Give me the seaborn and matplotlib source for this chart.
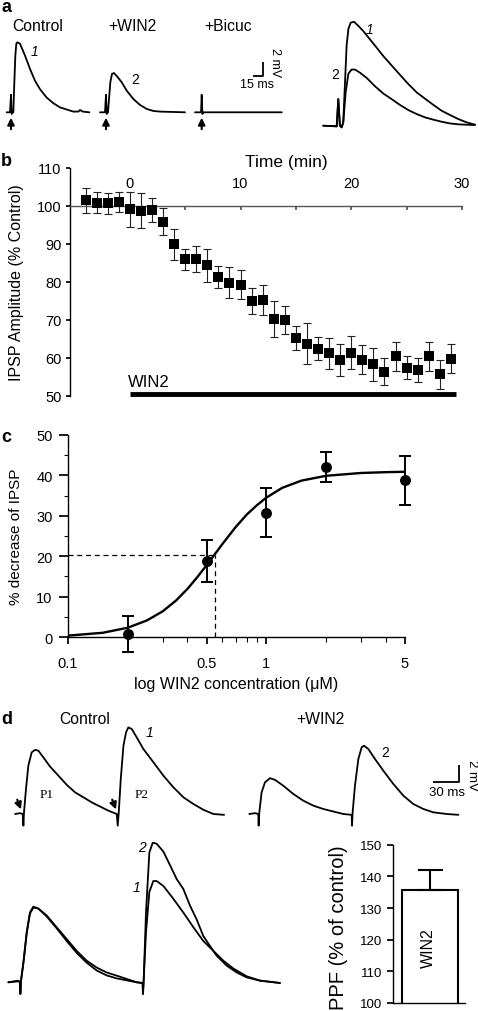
import matplotlib
matplotlib.use("Agg")
import matplotlib.pyplot as plt
from matplotlib.patches import FancyArrowPatch
from matplotlib.ticker import FixedLocator, NullFormatter
import numpy as np
import pandas as pd
import seaborn as sns

W, H = 478, 1012

# ---- panel a: example IPSPs (ms, mV) ----
a_ctrl_t = [-6.5, -1.5, 0, 1, 2.5, 3.5, 5, 6.5, 8, 9.5, 13.5, 21, 28.5, 36, 43.5, 53.5,
            63.5, 73.5, 83.5, 93.5, 101, 103.5, 107.5, 117.5]
a_ctrl_v = [0, 0, 2.5, -0.24, 0, 0, 4.3, 8.1, 9.8, 10, 9.8, 8.1, 6.2, 4.5, 3.3, 2.1,
            1.3, 0.7, 0.4, 0.1, 0.1, 0.33, 0.1, 0]
a_win_t = [-9, -1.5, 0, 1, 3, 4.5, 6.5, 9, 12, 16, 23.5, 31, 41, 51, 61, 71, 81, 118.5]
a_win_v = [0, 0, 2.5, -0.24, 0, 1.9, 4.3, 5.5, 5.6, 5.2, 4.3, 3.1, 1.9, 1.05, 0.48, 0.19, 0.1, 0]
a_bic_t = [-10, -1, 0, 1, 2.5, 120]
a_bic_v = [0, 0, 2.5, -0.24, 0, 0]

# superimposed traces 1 (control) and 2 (WIN2)
a_ov1_t = [-9.4, -1, 0, 1, 2.1, 3.1, 4.2, 5.2, 6.3, 7.7, 9.8, 12.5, 15.6, 19.8, 24, 28.1,
           33.3, 38.5, 43.8, 49, 54.2, 59.4, 64.6, 69.8, 75, 80.2, 85.4]
a_ov1_v = [0, -0.06, 2.56, 0, -0.16, 0.32, 4.2, 7.7, 9.3, 9.9, 10, 9.6, 9.1, 8.3, 7.5, 6.7,
           5.8, 4.9, 4.0, 3.2, 2.6, 2.0, 1.44, 1.03, 0.64, 0.32, 0.1]
a_ov2_t = [-9.4, -1, 0, 1, 2.1, 3.1, 4.6, 6.3, 8.3, 10.4, 13.5, 17.7, 22.9, 28.1, 33.3,
           38.5, 43.8, 49, 54.2, 59.4, 64.6, 69.8, 75, 85.4]
a_ov2_v = [0, -0.06, 2.56, 0, -0.16, 0.32, 3.2, 5.0, 5.4, 5.4, 5.1, 4.6, 3.8, 3.1, 2.56,
           2.0, 1.5, 1.12, 0.8, 0.58, 0.38, 0.22, 0.13, 0.06]

# ---- panel b: time course ----
b_time = list(range(-4, 30))
b_amp = [101.5, 100.9, 100.7, 101.1, 99.1, 98.7, 98.9, 95.9, 89.9, 86.0, 86.1, 84.4,
         81.3, 79.8, 79.3, 75.0, 75.3, 70.2, 70.0, 65.3, 63.8, 62.5, 61.2, 59.4, 61.4,
         59.6, 58.3, 56.4, 60.5, 57.5, 56.8, 60.4, 55.7, 59.8]
b_sem = [3.3, 2.8, 2.8, 2.6, 4.6, 4.6, 3.2, 3.6, 4.1, 2.8, 3.5, 4.4, 2.9, 4.1, 3.8, 3.5,
         3.9, 4.7, 3.7, 3.1, 5.3, 3.0, 4.1, 4.2, 4.4, 3.8, 4.4, 3.5, 3.8, 3.1, 3.1, 3.7,
         3.8, 3.8]
win2_start, win2_end = 0, 29.5

# ---- panel c: concentration-response ----
c_conc = [0.2, 0.5, 1, 2, 5]
c_pct = [0.8, 18.8, 30.8, 42.0, 38.8]
c_sem = [4.4, 5.3, 6.0, 3.7, 6.1]
c_fit_conc = [0.1, 0.15, 0.2, 0.25, 0.3, 0.35, 0.4, 0.45, 0.5, 0.55, 0.6, 0.7, 0.8, 0.9,
              1.0, 1.2, 1.5, 2, 3, 4, 5]
c_fit_pct = [0.34, 1.05, 2.3, 4.1, 6.35, 9.0, 11.9, 14.9, 17.8, 20.5, 23.0, 27.2, 30.4,
             32.7, 34.5, 36.9, 38.7, 39.9, 40.6, 40.8, 40.9]
c_ec50, c_half = 0.55, 20.4

# ---- panel d: paired-pulse traces (ms, mV) ----
d_ctrl_t = [-8.8, -3.1, 0, 0.8, 1.5, 3.8, 6.5, 10.4, 14.2, 18.1, 23.8, 31.5, 41.2, 50.8,
            60.4, 70, 79.6, 89.2, 98.8, 108.5, 109.6, 110.8, 113.1, 116.2, 119.2, 121.9,
            125.8, 131.5, 139.2, 150.8, 162.3, 173.8, 185.4, 196.9, 208.5, 220, 232.3]
d_ctrl_v = [0, 0.1, 0, -1.4, 0.2, 3, 5.8, 7.4, 7.7, 7.6, 6.8, 5.7, 4.6, 3.5, 2.6, 2.0,
            1.4, 0.9, 0.4, 0, -1.4, 0.2, 4.2, 8.2, 9.8, 10.4, 10.2, 9.2, 7.8, 6.2, 4.6,
            3.2, 2.0, 1.2, 0.5, 0, -0.1]
d_win_t = [-10.4, -3.8, 0, 0.4, 1.2, 3.8, 7.7, 13.5, 19.2, 28.8, 40.4, 51.9, 63.5, 75,
           86.5, 98.1, 107.7, 108.1, 108.8, 111.5, 115.4, 119.2, 121.9, 126.9, 134.6,
           144.2, 155.8, 167.3, 178.8, 190.4, 201.9, 217.3, 230.8]
d_win_v = [0, 0.1, 0, -1.4, 0.2, 2.6, 3.8, 4.3, 4.1, 3.4, 2.4, 1.6, 1.0, 0.6, 0.3, 0,
           -0.1, -1.4, 0.2, 3.4, 6.6, 8.0, 8.2, 7.8, 6.6, 5.2, 3.6, 2.2, 1.2, 0.6, 0.2,
           0, -0.1]
d_ov1_t = [-10.4, -1.5, 0, 0.3, 0.9, 3, 6, 8.9, 11.9, 16.4, 23.8, 32.7, 41.7, 50.6, 59.5,
           68.5, 77.4, 86.3, 95.2, 104.2, 109.5, 109.8, 110.4, 112.5, 115.5, 119, 122,
           128, 136.9, 145.8, 154.8, 163.7, 172.6, 181.5, 190.5, 202.4, 214.3, 232.1]
d_ov1_v = [0, 0.17, 0, -1.19, 0.17, 2.0, 5.1, 7.1, 7.7, 7.5, 6.8, 5.6, 4.4, 3.2, 2.2,
           1.5, 1.0, 0.68, 0.34, 0, -0.07, -1.19, 0.17, 5.1, 9.2, 10.3, 10.3, 9.8, 8.5,
           7.1, 5.6, 4.2, 3.2, 2.2, 1.4, 0.61, 0.17, -0.07]
d_ov2_t = [-10.4, -1.5, 0, 0.3, 0.9, 3, 6, 8.9, 11.9, 16.4, 23.8, 32.7, 41.7, 50.6, 59.5,
           68.5, 77.4, 86.3, 95.2, 104.2, 109.5, 109.8, 110.4, 112.5, 115.5, 118.5, 122,
           128, 134, 139.9, 145.8, 151.8, 157.7, 163.7, 169.6, 175.6, 184.5, 193.5,
           202.4, 214.3, 232.1]
d_ov2_v = [0, 0.1, 0, -1.19, 0.17, 1.9, 5.0, 7.0, 7.6, 7.5, 6.7, 5.5, 4.2, 3.0, 2.0,
           1.2, 0.7, 0.4, 0.2, 0, -0.07, -1.19, 0.17, 7.1, 13.2, 14.2, 14.1, 13.3, 11.9,
           10.5, 9.5, 7.8, 6.4, 4.7, 3.7, 2.7, 1.7, 1.0, 0.5, 0.17, -0.07]

ppf_labels = ["WIN2"]
ppf_mean = [135.7]
ppf_sem = [6.4]


sns.set_theme(style="ticks")
plt.rcParams["font.family"] = ["Liberation Sans", "DejaVu Sans"]
plt.rcParams["text.color"] = "black"
plt.rcParams["axes.labelcolor"] = "black"
plt.rcParams["xtick.color"] = "black"
plt.rcParams["ytick.color"] = "black"
plt.rcParams["axes.edgecolor"] = "black"
plt.rcParams["axes.linewidth"] = 1.0

TICK_FS = 10.5


def px_axes(fig, x0, y0, x1, y1):
    return fig.add_axes([x0 / W, 1 - y1 / H, (x1 - x0) / W, (y1 - y0) / H])


def trace_axes(fig, box, stim_px, base_px, px_ms, px_mv):
    x0, y0, x1, y1 = box
    ax = px_axes(fig, x0, y0, x1, y1)
    ax.set_xlim((x0 - stim_px) / px_ms, (x1 - stim_px) / px_ms)
    ax.set_ylim((base_px - y1) / px_mv, (base_px - y0) / px_mv)
    ax.axis("off")
    return ax


def draw_trace(ax, t, v):
    sns.lineplot(x=t, y=v, ax=ax, color="black", lw=1.3, sort=False, estimator=None)


def fig_text(fig, x, y, s, **kw):
    kw.setdefault("ha", "center")
    kw.setdefault("va", "center")
    fig.text(x / W, 1 - y / H, s, **kw)


def fig_arrow(fig, x0, y0, x1, y1):
    fig.add_artist(FancyArrowPatch((x0 / W, 1 - y0 / H), (x1 / W, 1 - y1 / H),
                                   transform=fig.transFigure, arrowstyle="-|>",
                                   mutation_scale=10, lw=1.5, color="black"))


def scale_bar(ax, x, y, dx, dy, xlab, ylab, xlab_pos, ylab_pos, fs):
    ax.plot([x, x + dx, x + dx], [y, y, y + dy], color="black", lw=1.3,
            solid_capstyle="butt", clip_on=False)
    ax.text(*xlab_pos, xlab, fontsize=fs, ha="center", va="center")
    ax.text(*ylab_pos, ylab, fontsize=fs, ha="center", va="center", rotation=-90)


fig = plt.figure(figsize=(W / 100, H / 100), dpi=100)

# ---------------- a ----------------
a_px_ms, a_px_mv = 0.667, 7.0
ax = trace_axes(fig, (0, 35, 95, 140), 11, 113.3, a_px_ms, a_px_mv)
draw_trace(ax, a_ctrl_t, a_ctrl_v)
ax = trace_axes(fig, (95, 35, 190, 140), 106, 113.3, a_px_ms, a_px_mv)
draw_trace(ax, a_win_t, a_win_v)
ax = trace_axes(fig, (190, 35, 300, 140), 201.7, 113.3, a_px_ms, a_px_mv)
draw_trace(ax, a_bic_t, a_bic_v)
scale_bar(ax, 76.5, 5.14, 15, 2, "15 ms", "2 mV", (83, 4.0), (109.5, 7.2), 9)
ax = trace_axes(fig, (310, 10, 478, 140), 338.3, 126.7, 1.6, 10.4)
draw_trace(ax, a_ov1_t, a_ov1_v)
draw_trace(ax, a_ov2_t, a_ov2_v)

for sx in (11, 106, 201.7):
    fig_arrow(fig, sx, 133, sx, 116)

fig_text(fig, 38, 26.5, "Control", fontsize=11.3)
fig_text(fig, 132.5, 26.5, "+WIN2", fontsize=11.3)
fig_text(fig, 228, 26.5, "+Bicuc", fontsize=11.3)
fig_text(fig, 35, 52, "1", fontsize=10, style="italic")
fig_text(fig, 135, 80.5, "2", fontsize=10)
fig_text(fig, 370, 30, "1", fontsize=10, style="italic")
fig_text(fig, 335, 75, "2", fontsize=10)

# ---------------- b ----------------
ax = px_axes(fig, 70, 169, 462, 397)
ax.errorbar(b_time, b_amp, yerr=b_sem, fmt="none", ecolor="#222222",
            elinewidth=0.8, capsize=3.2, capthick=0.8, zorder=2)
sns.scatterplot(x=b_time, y=b_amp, marker="s", s=52, color="black", edgecolor="black",
                linewidth=0, ax=ax, zorder=3)
ax.set_xlim(-5.4, 30)
ax.set_ylim(50, 110)
ax.spines["right"].set_visible(False)
ax.spines["bottom"].set_visible(False)
ax.spines["top"].set_position(("data", 100))
ax.spines["top"].set_color("#555555")
ax.xaxis.tick_top()
ax.set_xticks([0, 5, 10, 15, 20, 25, 30])
ax.set_xticklabels(["0", "", "10", "", "20", "", "30"])
ax.tick_params(axis="x", direction="in", length=3, pad=11.5, labelsize=TICK_FS,
               color="#555555")
ax.set_yticks(range(50, 111, 10))
ax.tick_params(axis="y", direction="out", length=3, pad=3, labelsize=TICK_FS)
ax.set_ylabel("IPSP Amplitude (% Control)", fontsize=11.5)
ax.yaxis.set_label_coords(-0.117, 0.5)
ax.plot([win2_start, win2_end], [50.5, 50.5], color="black", lw=3.5,
        solid_capstyle="butt", clip_on=False)
ax.text(win2_start - 0.2, 53.8, "WIN2", fontsize=12, ha="left", va="center")
fig_text(fig, 286, 162, "Time (min)", fontsize=12.5)

# ---------------- c ----------------
ax = px_axes(fig, 68, 436, 405, 638)
ax.set_xscale("log")
sns.lineplot(x=c_fit_conc, y=c_fit_pct, ax=ax, color="black", lw=1.7, sort=False,
             estimator=None)
ax.plot([0.1, c_ec50], [c_half, c_half], color="black", lw=0.9, ls="--", dashes=(4, 3))
ax.plot([c_ec50, c_ec50], [0, c_half], color="black", lw=0.9, ls="--", dashes=(4, 3))
eb = ax.errorbar(c_conc, c_pct, yerr=c_sem, fmt="none", ecolor="black",
                 elinewidth=1.4, capsize=4.5, capthick=1.4, zorder=2)
for part in eb.get_children():
    part.set_clip_on(False)
sns.scatterplot(x=c_conc, y=c_pct, s=62, color="black", edgecolor="black", linewidth=0,
                ax=ax, zorder=3, clip_on=False)
ax.set_xlim(0.1, 5)
ax.set_ylim(0, 50)
ax.spines["right"].set_visible(False)
ax.spines["top"].set_visible(False)
ax.xaxis.set_major_locator(FixedLocator([0.1, 0.5, 1, 5]))
ax.set_xticklabels(["0.1", "0.5", "1", "5"])
ax.xaxis.set_minor_locator(FixedLocator([0.2, 0.3, 0.4, 0.6, 0.7, 0.8, 0.9, 2, 3, 4]))
ax.xaxis.set_minor_formatter(NullFormatter())
ax.tick_params(axis="x", which="major", direction="out", length=5, pad=8.5,
               labelsize=TICK_FS)
ax.tick_params(axis="x", which="minor", direction="out", length=3.5, width=0.8)
ax.set_yticks(range(0, 51, 10))
ax.yaxis.set_minor_locator(FixedLocator([5, 15, 25, 35, 45]))
ax.tick_params(axis="y", which="major", direction="out", length=6.5, pad=4.5,
               labelsize=TICK_FS)
ax.tick_params(axis="y", which="minor", direction="out", length=3, width=0.8)
ax.set_ylabel("% decrease of IPSP", fontsize=11)
ax.yaxis.set_label_coords(-0.134, 0.5)
ax.set_xlabel("log WIN2 concentration (\u03bcM)", fontsize=11.5)
ax.xaxis.set_label_coords(0.5, -0.195)

# ---------------- d ----------------
d_px_ms, d_px_mv = 0.867, 8.33
ax = trace_axes(fig, (0, 700, 240, 830), 22.7, 815, d_px_ms, d_px_mv)
draw_trace(ax, d_ctrl_t, d_ctrl_v)
ax.text(27.7, 2.4, "P1", fontsize=9.5, family="Liberation Serif", ha="center", va="center")
ax.text(137.3, 2.4, "P2", fontsize=9.5, family="Liberation Serif", ha="center", va="center")
ax = trace_axes(fig, (240, 700, 478, 830), 258.3, 815, d_px_ms, d_px_mv)
draw_trace(ax, d_win_t, d_win_v)
scale_bar(ax, 201.5, 3.88, 30, 2, "30 ms", "2 mV", (217.6, 2.6), (247, 4.8), 9.5)

fig_arrow(fig, 16.2, 798, 22, 813)
fig_arrow(fig, 111.2, 798, 117, 813)

ax = trace_axes(fig, (0, 830, 300, 1005), 20, 983.3, 1.12, 9.83)
draw_trace(ax, d_ov1_t, d_ov1_v)
draw_trace(ax, d_ov2_t, d_ov2_v)

fig_text(fig, 85, 719, "Control", fontsize=11.3)
fig_text(fig, 320, 719, "+WIN2", fontsize=11.3)
fig_text(fig, 150, 733, "1", fontsize=10, style="italic")
fig_text(fig, 385, 753, "2", fontsize=10)
fig_text(fig, 141.7, 848, "2", fontsize=10, style="italic")
fig_text(fig, 136.7, 888, "1", fontsize=10, style="italic")

ax = px_axes(fig, 393, 845.7, 465, 1004)
ppf_df = pd.DataFrame({"cond": ppf_labels, "ppf": ppf_mean})
sns.barplot(data=ppf_df, x="cond", y="ppf", ax=ax, width=0.786, color="white",
            edgecolor="black", linewidth=1.5, errorbar=None)
for bar in ax.patches:
    bar.set_facecolor("white")
ax.errorbar(range(len(ppf_mean)), ppf_mean, yerr=[[0] * len(ppf_sem), ppf_sem],
            fmt="none", ecolor="black", elinewidth=1.5, capsize=9, capthick=1.5)
ax.set_xlim(-0.514, 0.486)
ax.set_ylim(100, 150)
ax.set_xticks([])
ax.set_xlabel("")
ax.spines["right"].set_visible(False)
ax.spines["top"].set_visible(False)
ax.set_yticks(range(100, 151, 10))
ax.tick_params(axis="y", direction="out", length=4.5, pad=3.5, labelsize=9.5)
ax.set_ylabel("PPF (% of control)", fontsize=14.5)
ax.yaxis.set_label_coords(-0.625, 0.483)
ax.text(0.49, 0.352, ppf_labels[0], transform=ax.transAxes, rotation=90, fontsize=11.5,
        ha="center", va="center")

# panel letters
for letter, (lx, ly) in zip("abcd", [(6, 7), (6, 162), (6, 437), (7, 720)]):
    fig_text(fig, lx, ly, letter, fontsize=13, fontweight="bold")

fig.savefig("out.png", dpi=100)
plt.close(fig)
